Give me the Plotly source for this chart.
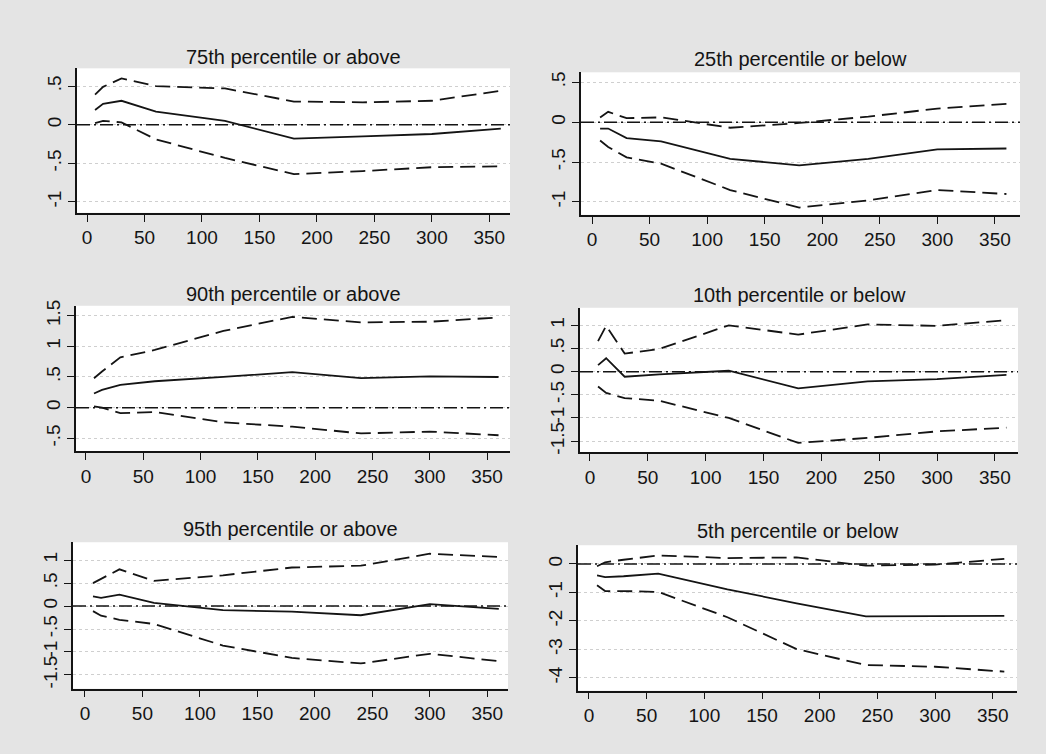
import plotly.graph_objects as go

# ---------------- data ----------------
horizon = [7, 14, 30, 60, 120, 180, 240, 300, 360]
x_ticks = [0, 50, 100, 150, 200, 250, 300, 350]

titles = ["75th percentile or above", "25th percentile or below",
          "90th percentile or above", "10th percentile or below",
          "95th percentile or above", "5th percentile or below"]

p75_est = [0.19, 0.27, 0.31, 0.17, 0.05, -0.18, -0.15, -0.12, -0.05]
p75_hi = [0.39, 0.49, 0.60, 0.50, 0.47, 0.30, 0.29, 0.31, 0.44]
p75_lo = [0.02, 0.05, 0.03, -0.19, -0.43, -0.64, -0.60, -0.55, -0.54]

p25_est = [-0.08, -0.08, -0.20, -0.24, -0.46, -0.54, -0.46, -0.34, -0.33]
p25_hi = [0.06, 0.13, 0.05, 0.06, -0.07, -0.01, 0.07, 0.17, 0.23]
p25_lo = [-0.23, -0.31, -0.44, -0.52, -0.85, -1.07, -0.98, -0.85, -0.90]

p90_est = [0.23, 0.29, 0.37, 0.43, 0.50, 0.58, 0.48, 0.51, 0.50]
p90_hi = [0.48, 0.59, 0.82, 0.94, 1.25, 1.48, 1.39, 1.40, 1.47]
p90_lo = [0.02, 0.00, -0.09, -0.07, -0.24, -0.31, -0.42, -0.39, -0.45]

p10_est = [0.14, 0.29, -0.11, -0.06, 0.02, -0.36, -0.21, -0.16, -0.07]
p10_hi = [0.66, 0.99, 0.39, 0.49, 1.00, 0.80, 1.02, 0.99, 1.11]
p10_lo = [-0.32, -0.46, -0.57, -0.63, -1.00, -1.54, -1.43, -1.29, -1.21]

p95_est = [0.21, 0.18, 0.25, 0.07, -0.09, -0.12, -0.20, 0.04, -0.06]
p95_hi = [0.50, 0.59, 0.80, 0.55, 0.67, 0.84, 0.88, 1.14, 1.07]
p95_lo = [-0.11, -0.21, -0.30, -0.39, -0.86, -1.13, -1.25, -1.04, -1.20]

p5_est = [-0.40, -0.46, -0.43, -0.34, -0.89, -1.38, -1.84, -1.82, -1.82]
p5_hi = [-0.08, 0.06, 0.15, 0.30, 0.21, 0.23, -0.06, -0.02, 0.18]
p5_lo = [-0.75, -0.95, -0.95, -0.98, -1.87, -2.99, -3.55, -3.61, -3.78]

y_tickvals = [
    [-1, -0.5, 0, 0.5],
    [-1, -0.5, 0, 0.5],
    [-0.5, 0, 0.5, 1, 1.5],
    [-1.5, -1, -0.5, 0, 0.5, 1],
    [-1.5, -1, -0.5, 0, 0.5, 1],
    [-4, -3, -2, -1, 0],
]
y_ticktext = [
    ["-1", "-.5", "0", ".5"],
    ["-1", "-.5", "0", ".5"],
    ["-.5", "0", ".5", "1", "1.5"],
    ["-1.5", "-1", "-.5", "0", ".5", "1"],
    ["-1.5", "-1", "-.5", "0", ".5", "1"],
    ["-4", "-3", "-2", "-1", "0"],
]

series = [
    (p75_est, p75_hi, p75_lo),
    (p25_est, p25_hi, p25_lo),
    (p90_est, p90_hi, p90_lo),
    (p10_est, p10_hi, p10_lo),
    (p95_est, p95_hi, p95_lo),
    (p5_est, p5_hi, p5_lo),
]

# ---------------- layout geometry ----------------
W, H = 1046, 754
# pixel boxes: left, right, top, bottom
boxes = [
    (77, 510, 63, 209),
    (581, 1020, 67, 211),
    (76, 510, 303, 450),
    (580, 1018, 305, 451),
    (73, 508, 542, 690),
    (578, 1017, 545, 692),
]
x_ranges = [(-8.7, 368), (-9.6, 371.8), (-8.7, 370), (-8.6, 370), (-10.4, 368), (-9.5, 371)]
y_ranges = [(-1.14, 0.73), (-1.16, 0.625), (-0.71, 1.66), (-1.74, 1.38), (-1.8, 1.39), (-4.45, 0.66)]
title_y = [52, 54, 291, 292, 529, 531]

FONT = "Liberation Sans, Arial, Helvetica, sans-serif"
INK = "#141414"
DASH = "15px,7px"
DASHDOT = "13px,4px,2px,4px"

fig = go.Figure()
layout = dict(
    width=W, height=H,
    margin=dict(l=0, r=0, t=0, b=0),
    paper_bgcolor="#e4e4e4",
    plot_bgcolor="white",
    showlegend=False,
    font=dict(family=FONT, color=INK),
)
annotations = []
shapes = []

for i in range(6):
    n = i + 1
    xa = "x" if n == 1 else f"x{n}"
    ya = "y" if n == 1 else f"y{n}"
    l, r, t, b = boxes[i]
    est, hi, lo = series[i]
    fig.add_trace(go.Scatter(x=horizon, y=hi, mode="lines", xaxis=xa, yaxis=ya,
                             line=dict(color=INK, width=1.8, dash=DASH)))
    fig.add_trace(go.Scatter(x=horizon, y=lo, mode="lines", xaxis=xa, yaxis=ya,
                             line=dict(color=INK, width=1.8, dash=DASH)))
    fig.add_trace(go.Scatter(x=horizon, y=est, mode="lines", xaxis=xa, yaxis=ya,
                             line=dict(color=INK, width=1.8)))

    layout[f"xaxis{'' if n == 1 else n}"] = dict(
        domain=[l / W, r / W], anchor=ya, range=list(x_ranges[i]),
        tickvals=x_ticks, ticks="outside", ticklen=7, tickwidth=1.4, tickcolor=INK,
        showline=True, linecolor=INK, linewidth=1.6, showgrid=False, zeroline=False,
        tickfont=dict(size=19, family=FONT, color=INK),
    )
    layout[f"yaxis{'' if n == 1 else n}"] = dict(
        domain=[1 - b / H, 1 - t / H], anchor=xa, range=list(y_ranges[i]),
        tickvals=y_tickvals[i], ticktext=y_ticktext[i], tickangle=-90,
        ticks="outside", ticklen=7, tickwidth=1.4, tickcolor=INK,
        showline=True, linecolor=INK, linewidth=1.6,
        showgrid=True, gridcolor="#cfcfcf", gridwidth=1, griddash="dot",
        zeroline=False, tickfont=dict(size=19, family=FONT, color=INK),
    )
    annotations.append(dict(
        text=titles[i], xref="paper", yref="paper",
        x=(l + r) / 2 / W, y=1 - title_y[i] / H, xanchor="center", yanchor="middle",
        showarrow=False, font=dict(size=20, family=FONT, color=INK),
    ))
    shapes.append(dict(
        type="line", xref=f"{xa} domain", yref=ya, x0=0, x1=1, y0=0, y1=0,
        line=dict(color=INK, width=1.5, dash=DASHDOT), layer="above",
    ))

layout["annotations"] = annotations
layout["shapes"] = shapes
fig.update_layout(**layout)
fig.write_html("out.html", config={"displayModeBar": False},
               post_script="document.body.style.margin='0';")
